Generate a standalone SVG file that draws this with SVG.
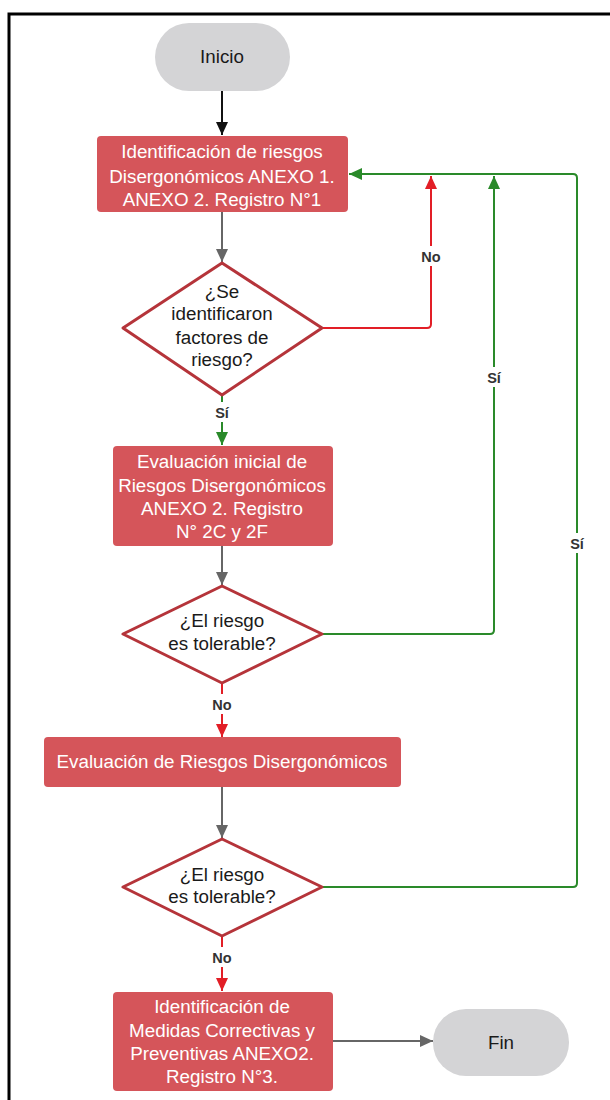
<svg xmlns="http://www.w3.org/2000/svg" width="610" height="1100" viewBox="0 0 610 1100">
<style>
.term{fill:#d4d4d6;}
.box{fill:#d5555a;}
.dia{fill:#ffffff;stroke:#b5343a;stroke-width:3;stroke-linejoin:round;}
.t{font-family:"Liberation Sans",Arial,sans-serif;font-size:18.8px;text-anchor:middle;}
.tw{fill:#ffffff;}
.tk{fill:#1a1a1a;}
.lbl{font-family:"Liberation Sans",Arial,sans-serif;font-size:14.5px;font-weight:bold;fill:#333333;text-anchor:middle;}
.lb{fill:#ffffff;}
.c{fill:none;stroke-width:2;}
.blk{stroke:#111111;}
.gry{stroke:#666666;}
.red{stroke:#e21e26;}
.grn{stroke:#2a8a2a;}
</style>
<defs>
<marker id="aBlk" markerUnits="userSpaceOnUse" markerWidth="14" markerHeight="14" refX="13" refY="6" orient="auto"><path d="M0,0 L13,6 L0,12 Z" fill="#111111"/></marker>
<marker id="aGry" markerUnits="userSpaceOnUse" markerWidth="14" markerHeight="14" refX="13" refY="6" orient="auto"><path d="M0,0 L13,6 L0,12 Z" fill="#666666"/></marker>
<marker id="aRed" markerUnits="userSpaceOnUse" markerWidth="14" markerHeight="14" refX="13" refY="6" orient="auto"><path d="M0,0 L13,6 L0,12 Z" fill="#e21e26"/></marker>
<marker id="aGrn" markerUnits="userSpaceOnUse" markerWidth="14" markerHeight="14" refX="13" refY="6" orient="auto"><path d="M0,0 L13,6 L0,12 Z" fill="#2a8a2a"/></marker>
</defs>
<rect x="0" y="0" width="610" height="1100" fill="#ffffff"/>
<rect x="9" y="14" width="640" height="1120" fill="none" stroke="#000000" stroke-width="3"/>

<g id="connectors">
<path class="c blk" d="M222,91 V135" marker-end="url(#aBlk)"/>
<path class="c gry" d="M222,212 V262" marker-end="url(#aGry)"/>
<path class="c red" d="M322,328 H427 Q431,328 431,324 V176" marker-end="url(#aRed)"/>
<path class="c grn" d="M222,395 V445" marker-end="url(#aGrn)"/>
<path class="c gry" d="M222,546 V585" marker-end="url(#aGry)"/>
<path class="c grn" d="M322,634 H490 Q494,634 494,630 V176" marker-end="url(#aGrn)"/>
<path class="c red" d="M222,683 V737" marker-end="url(#aRed)"/>
<path class="c gry" d="M222,787 V838" marker-end="url(#aGry)"/>
<path class="c grn" d="M322,887 H573 Q577,887 577,883 V178 Q577,174 573,174 H349" marker-end="url(#aGrn)"/>
<path class="c red" d="M222,936 V991" marker-end="url(#aRed)"/>
<path class="c gry" d="M333,1041 H433" marker-end="url(#aGry)"/>
<rect class="lb" x="416" y="246" width="30" height="20"/>
<text class="lbl" x="431" y="262">No</text>
<rect class="lb" x="483" y="367" width="22" height="20"/>
<text class="lbl" x="494" y="383">Sí</text>
<rect class="lb" x="566" y="533" width="22" height="20"/>
<text class="lbl" x="577" y="549">Sí</text>
<rect class="lb" x="211" y="402" width="22" height="20"/>
<text class="lbl" x="222" y="418">Sí</text>
<rect class="lb" x="207" y="694" width="30" height="20"/>
<text class="lbl" x="222" y="710">No</text>
<rect class="lb" x="207" y="947" width="30" height="20"/>
<text class="lbl" x="222" y="963">No</text>
</g>

<g id="inicio">
<rect class="term" x="155" y="23" width="135" height="68" rx="34"/>
<text class="t tk" x="222" y="63">Inicio</text>
</g>

<g id="identificacion">
<rect class="box" x="97" y="136" width="251" height="76" rx="4"/>
<text class="t tw" x="222" y="158">Identificación de riesgos</text>
<text class="t tw" x="222" y="183">Disergonómicos ANEXO 1.</text>
<text class="t tw" x="222" y="206">ANEXO 2. Registro N°1</text>
</g>

<g id="decision1">
<path class="dia" d="M222,263 L322,328 L222,395 L123,328 Z"/>
<text class="t tk" x="222" y="298">¿Se</text>
<text class="t tk" x="222" y="320">identificaron</text>
<text class="t tk" x="222" y="344">factores de</text>
<text class="t tk" x="222" y="366">riesgo?</text>
</g>

<g id="evaluacion-inicial">
<rect class="box" x="113" y="446" width="220" height="100" rx="4"/>
<text class="t tw" x="222" y="468">Evaluación inicial de</text>
<text class="t tw" x="222" y="492">Riesgos Disergonómicos</text>
<text class="t tw" x="222" y="515">ANEXO 2. Registro</text>
<text class="t tw" x="222" y="538">N° 2C y 2F</text>
</g>

<g id="decision2">
<path class="dia" d="M222,586 L322,634 L222,683 L123,634 Z"/>
<text class="t tk" x="222" y="627">¿El riesgo</text>
<text class="t tk" x="222" y="650">es tolerable?</text>
</g>

<g id="evaluacion">
<rect class="box" x="44" y="737" width="357" height="50" rx="4"/>
<text class="t tw" x="222" y="768">Evaluación de Riesgos Disergonómicos</text>
</g>

<g id="decision3">
<path class="dia" d="M222,839 L322,887 L222,936 L123,887 Z"/>
<text class="t tk" x="222" y="881">¿El riesgo</text>
<text class="t tk" x="222" y="903">es tolerable?</text>
</g>

<g id="medidas">
<rect class="box" x="113" y="992" width="220" height="99" rx="4"/>
<text class="t tw" x="222" y="1013">Identificación de</text>
<text class="t tw" x="222" y="1037">Medidas Correctivas y</text>
<text class="t tw" x="222" y="1060">Preventivas ANEXO2.</text>
<text class="t tw" x="222" y="1083">Registro N°3.</text>
</g>

<g id="fin">
<rect class="term" x="433" y="1009" width="136" height="67" rx="33"/>
<text class="t tk" x="501" y="1049">Fin</text>
</g>
</svg>
